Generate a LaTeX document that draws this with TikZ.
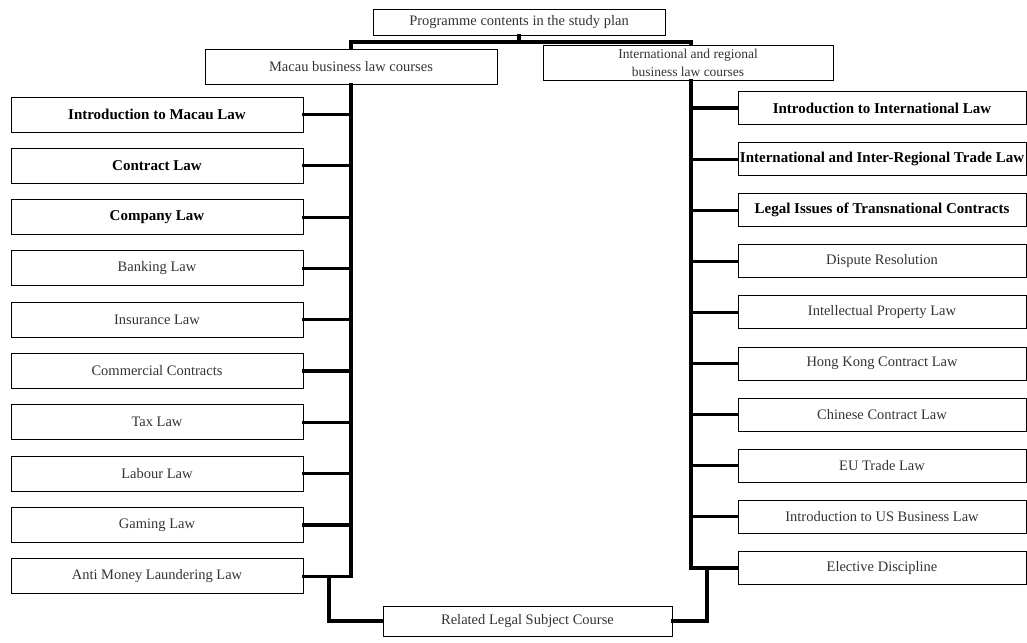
\documentclass[tikz,border=0pt]{standalone}
\usepackage{fontspec}
\setmainfont{Liberation Serif}
\begin{document}
\begin{tikzpicture}[x=1pt,y=-1pt,
  box/.style={draw, line width=0.9pt, minimum height=35pt, minimum width=292pt, inner sep=0pt, align=center, font=\fontsize{14.5}{18}\selectfont, text=black!80},
  bbox/.style={box, font=\fontsize{15}{18}\selectfont\bfseries, text=black},
  rbox/.style={box, minimum height=33pt, minimum width=288pt},
  rbbox/.style={bbox, minimum height=33pt, minimum width=288pt},
  link/.style={line width=3.2pt, line cap=rect}]
\useasboundingbox (0,0) rectangle (1027,642);

\node[box, minimum width=292pt, minimum height=26pt] (top) at (519,22) {Programme contents in the study plan};
\node[box, minimum width=292pt, minimum height=35pt] (macau) at (351,66.5) {Macau business law courses};
\node[box, minimum width=290pt, minimum height=35pt, font=\fontsize{13.5}{18}\selectfont] (intl) at (688,62.5) {International and regional\\business law courses};

\node[bbox] (L0) at (157,114.5) {Introduction to Macau Law};
\node[bbox] (L1) at (157,165.8) {Contract Law};
\node[bbox] (L2) at (157,217.1) {Company Law};
\node[box] (L3) at (157,268.4) {Banking Law};
\node[box] (L4) at (157,319.7) {Insurance Law};
\node[box] (L5) at (157,371.0) {Commercial Contracts};
\node[box] (L6) at (157,422.3) {Tax Law};
\node[box] (L7) at (157,473.6) {Labour Law};
\node[box] (L8) at (157,524.9) {Gaming Law};
\node[box] (L9) at (157,576.2) {Anti Money Laundering Law};

\node[rbbox] (R0) at (882,108.0) {Introduction to International Law};
\node[rbbox] (R1) at (882,159.1) {International and Inter-Regional Trade Law};
\node[rbbox] (R2) at (882,210.2) {Legal Issues of Transnational Contracts};
\node[rbox] (R3) at (882,261.3) {Dispute Resolution};
\node[rbox] (R4) at (882,312.4) {Intellectual Property Law};
\node[rbox] (R5) at (882,363.5) {Hong Kong Contract Law};
\node[rbox] (R6) at (882,414.6) {Chinese Contract Law};
\node[rbox] (R7) at (882,465.7) {EU Trade Law};
\node[rbox] (R8) at (882,516.8) {Introduction to US Business Law};
\node[rbox] (R9) at (882,567.9) {Elective Discipline};

\node[box, minimum width=289pt, minimum height=30pt] (rel) at (527.5,621) {Related Legal Subject Course};

\coordinate (tj) at (519,42);
\coordinate (lt) at (351,0);
\coordinate (rt) at (691,0);
\coordinate (bl) at (329,0);
\coordinate (br) at (707,0);

\draw[link] (top.south) -- (tj);
\draw[link] (macau.north -| lt) |- (tj) -| (intl.north -| rt);
\draw[link] (macau.south -| lt) -- (L9.east -| lt);
\draw[link] (intl.south -| rt) -- (R9.west -| rt);
\foreach \i in {0,...,9} {
  \draw[link] (L\i.east) -- (L\i.east -| lt);
  \draw[link] (R\i.west) -- (R\i.west -| rt);
}
\draw[link] (L9.east -| bl) |- (rel.west);
\draw[link] (R9.west -| br) |- (rel.east);
\end{tikzpicture}
\end{document}
